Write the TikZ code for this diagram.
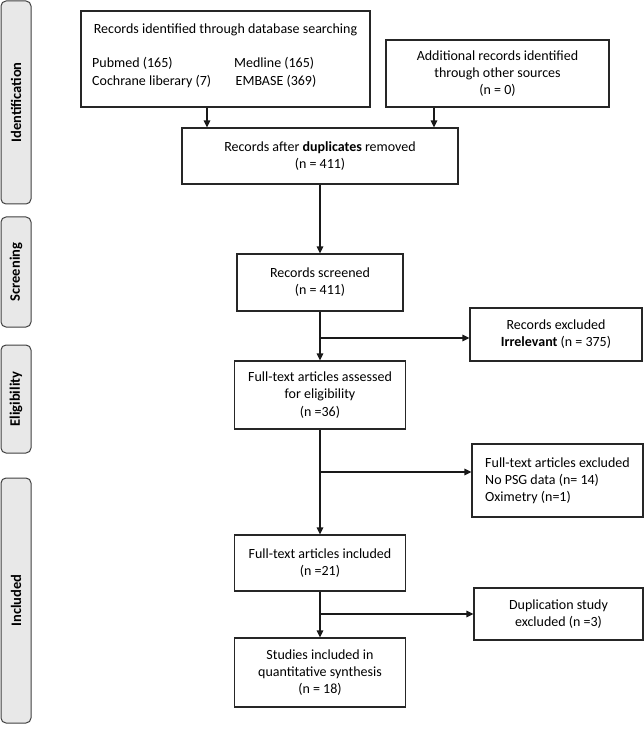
\documentclass[tikz,border=0pt]{standalone}
\usepackage{fontspec}
\setmainfont{Carlito}
\usetikzlibrary{arrows.meta}
\begin{document}
\begin{tikzpicture}[x=1pt,y=-1pt,
  box/.style={draw=black!85, line width=1.2pt, inner sep=0pt, align=center,
    font=\fontsize{14}{17.2}\selectfont},
  txt/.style={inner sep=0pt, font=\fontsize{14}{17.2}\selectfont},
  side/.style={draw=black!75, fill=black!9, rounded corners=5pt, line width=1pt,
    inner sep=0pt, rotate=90, font=\bfseries\fontsize{14.5}{17}\selectfont},
  arr/.style={-{Triangle[length=7pt,width=6.5pt]}, line width=1.3pt, draw=black!90}]
\useasboundingbox (0,0) rectangle (644,735);
% side labels
\node[side, minimum width=203, minimum height=30] (sid) at (16,102.5) {Identification};
\node[side, minimum width=110, minimum height=30] (sscr) at (16,272) {Screening};
\node[side, minimum width=108, minimum height=30] (selig) at (16,399) {Eligibility};
\node[side, minimum width=245, minimum height=30] (sinc) at (16,600.5) {Included};
% box A
\node[box, minimum width=289, minimum height=96] (A) at (225.5,59) {};
\node[txt] (a1) at (225.5,30) {Records identified through database searching};
\node[txt, anchor=west] (a2) at (92,63.5) {Pubmed (165)};
\node[txt, anchor=west] (a3) at (92,81.5) {Cochrane liberary (7)};
\node[txt, anchor=west] (a4) at (234,63.5) {Medline (165)};
\node[txt, anchor=west] (a5) at (235.5,81.5) {EMBASE (369)};
% box B
\node[box, minimum width=223, minimum height=67] (B) at (497.5,73.5)
  {Additional records identified\\through other sources\\(n = 0)};
% box C
\node[box, minimum width=276, minimum height=56] (C) at (320,156)
  {Records after \textbf{duplicates} removed\\(n = 411)};
% box D
\node[box, minimum width=166, minimum height=57] (D) at (320,282.5)
  {Records screened\\(n = 411)};
% box E
\node[box, minimum width=172, minimum height=53] (E) at (556,334.5)
  {Records excluded\\\textbf{Irrelevant} (n = 375)};
% box F
\node[box, minimum width=171, minimum height=68] (F) at (320,395)
  {Full-text articles assessed\\for eligibility\\(n =36)};
% box G
\node[box, align=left, minimum width=171, minimum height=73] (G) at (557.5,480.5)
  {Full-text articles excluded\\No PSG data (n= 14)\\Oximetry (n=1)};
% box H
\node[box, minimum width=171, minimum height=56] (H) at (320,563)
  {Full-text articles included\\(n =21)};
% box I
\node[box, minimum width=169, minimum height=52] (I) at (558.5,614)
  {Duplication study\\excluded (n =3)};
% box J
\node[box, minimum width=171, minimum height=69] (J) at (320,672.5)
  {Studies included in\\quantitative synthesis\\(n = 18)};
% arrows
\draw[arr] (A.south -| 207,0) -- (C.north -| 207,0);
\draw[arr] (B.south -| 434,0) -- (C.north -| 434,0);
\draw[arr] (C.south) -- (D.north);
\draw[arr] (D.south) -- (F.north);
\draw[arr] (F.south) -- (H.north);
\draw[arr] (H.south) -- (J.north);
\coordinate (b1) at (320,338);
\coordinate (b2) at (320,472);
\coordinate (b3) at (320,614);
\draw[arr] (b1) -- (b1 -| E.west);
\draw[arr] (b2) -- (b2 -| G.west);
\draw[arr] (b3) -- (b3 -| I.west);
\end{tikzpicture}
\end{document}
